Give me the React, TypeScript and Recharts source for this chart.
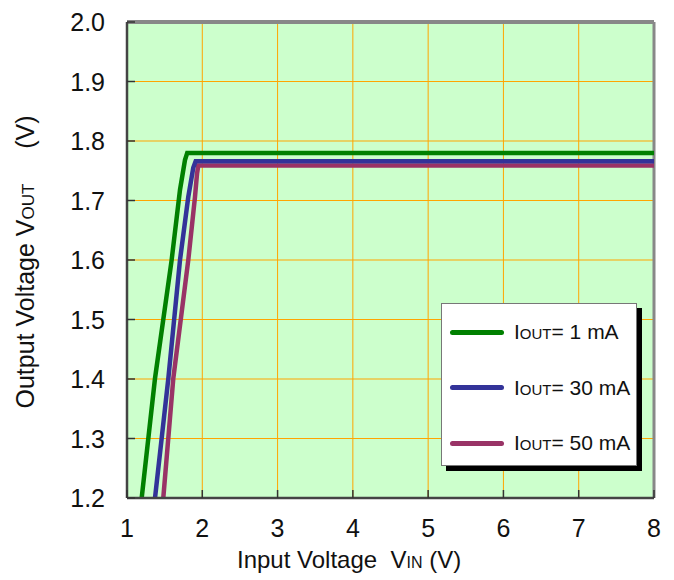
import React from 'react';
import { LineChart, Line, XAxis, YAxis, CartesianGrid, ReferenceLine } from 'recharts';

const xTicks = [1, 2, 3, 4, 5, 6, 7, 8];
const yTicks = [1.2, 1.3, 1.4, 1.5, 1.6, 1.7, 1.8, 1.9, 2.0];

const green1mA = [
  { vin: 1.195, vout: 1.2 },
  { vin: 1.372, vout: 1.401 },
  { vin: 1.593, vout: 1.6 },
  { vin: 1.704, vout: 1.718 },
  { vin: 1.77, vout: 1.768 },
  { vin: 1.8, vout: 1.78 },
  { vin: 8, vout: 1.78 },
];
const blue30mA = [
  { vin: 1.372, vout: 1.2 },
  { vin: 1.549, vout: 1.401 },
  { vin: 1.704, vout: 1.6 },
  { vin: 1.814, vout: 1.706 },
  { vin: 1.88, vout: 1.755 },
  { vin: 1.912, vout: 1.766 },
  { vin: 8, vout: 1.766 },
];
const purple50mA = [
  { vin: 1.482, vout: 1.2 },
  { vin: 1.615, vout: 1.401 },
  { vin: 1.814, vout: 1.6 },
  { vin: 1.903, vout: 1.706 },
  { vin: 1.93, vout: 1.745 },
  { vin: 1.947, vout: 1.759 },
  { vin: 8, vout: 1.759 },
];

const seriesLabels = ['= 1 mA', '= 30 mA', '= 50 mA'];
const seriesColors = ['#008000', '#333399', '#993366'];

const FONT = 'Liberation Sans, Arial, sans-serif';

const YTick = (props: any) => {
  const { x, y, payload } = props;
  return (
    <g>
      <line x1={x + 22} y1={y} x2={x + 30} y2={y} stroke="#333" strokeWidth={1.5} />
      <text x={x} y={y} dy={9} textAnchor="end" fontSize={25} fill="#111" fontFamily={FONT}>
        {payload.value.toFixed(1)}
      </text>
    </g>
  );
};

const XTick = (props: any) => {
  const { x, y, payload } = props;
  return (
    <g>
      <line x1={x} y1={y} x2={x} y2={y - 8} stroke="#333" strokeWidth={1.5} />
      <text x={x} y={y + 39} textAnchor="middle" fontSize={25} fill="#111" fontFamily={FONT}>
        {payload.value}
      </text>
    </g>
  );
};

const LegendBox = () => (
  <div
    style={{
      position: 'absolute',
      left: 441,
      top: 303,
      width: 196,
      height: 163,
      background: '#fff',
      border: '1px solid #777',
      boxShadow: '5px 5px 0 #000',
      boxSizing: 'border-box',
      fontFamily: FONT,
    }}
  >
    {seriesLabels.map((lbl, i) => (
      <div
        key={i}
        style={{ position: 'absolute', left: 8, top: 16 + i * 55.5, display: 'flex', alignItems: 'center', whiteSpace: 'nowrap' }}
      >
        <div style={{ width: 54, height: 5, borderRadius: 3, background: seriesColors[i] }} />
        <span style={{ marginLeft: 10, fontSize: 21, color: '#111' }}>
          I<span style={{ fontSize: 15 }}>OUT</span>
          {lbl}
        </span>
      </div>
    ))}
  </div>
);

export default function App() {
  return (
    <div style={{ position: 'absolute', left: 0, top: 0, width: 674, height: 580, background: '#fff' }}>
      <LineChart width={674} height={580} margin={{ top: 22, right: 20, bottom: 32, left: 67 }}>
        <CartesianGrid fill="#CCFFCC" stroke="#FFA500" strokeWidth={1} />
        <XAxis
          type="number"
          dataKey="vin"
          domain={[1, 8]}
          ticks={xTicks}
          allowDataOverflow
          tickSize={0}
          tickMargin={0}
          tick={<XTick />}
          height={50}
          axisLine={{ stroke: '#444', strokeWidth: 2.5 }}
          tickLine={false}
        />
        <YAxis
          type="number"
          dataKey="vout"
          domain={[1.2, 2.0]}
          ticks={yTicks}
          allowDataOverflow
          tickSize={0}
          tickMargin={22}
          tick={<YTick />}
          width={60}
          axisLine={{ stroke: '#444', strokeWidth: 2.5 }}
          tickLine={false}
        />
        <ReferenceLine y={2.0} stroke="#888" strokeWidth={4} />
        <ReferenceLine x={8} stroke="#888" strokeWidth={3} />
        <Line data={purple50mA} dataKey="vout" stroke={seriesColors[2]} strokeWidth={4.5} dot={false} isAnimationActive={false} />
        <Line data={blue30mA} dataKey="vout" stroke={seriesColors[1]} strokeWidth={4.5} dot={false} isAnimationActive={false} />
        <Line data={green1mA} dataKey="vout" stroke={seriesColors[0]} strokeWidth={4.5} dot={false} isAnimationActive={false} />
      </LineChart>
      <LegendBox />
      <div
        style={{
          position: 'absolute',
          left: 237,
          top: 546,
          fontFamily: FONT,
          fontSize: 24,
          lineHeight: '28px',
          color: '#111',
          whiteSpace: 'nowrap',
        }}
      >
        Input Voltage&nbsp; V<span style={{ fontSize: 16 }}>IN</span> (V)
      </div>
      <div
        style={{
          position: 'absolute',
          left: 27,
          top: 262,
          transform: 'translate(-50%, -50%) rotate(-90deg)',
          fontFamily: FONT,
          fontSize: 25,
          lineHeight: '28px',
          color: '#111',
          whiteSpace: 'nowrap',
        }}
      >
        Output Voltage V<span style={{ fontSize: 17 }}>OUT</span>&nbsp;&nbsp;&nbsp;&nbsp; (V)
      </div>
    </div>
  );
}
